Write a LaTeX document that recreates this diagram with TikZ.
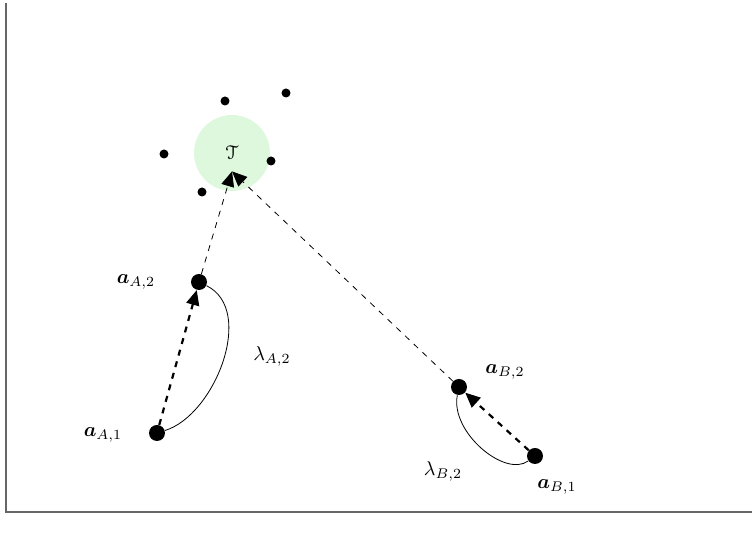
\documentclass[tikz,border=0pt]{standalone}
\usepackage{amsmath,bm}
\usepackage[mathcal]{eucal}
\usetikzlibrary{arrows.meta}
\definecolor{targetgreen}{RGB}{222,248,222}
\begin{document}
\begin{tikzpicture}[x=0.5pt,y=-0.5pt,
  dot/.style={circle,fill=black,inner sep=0pt,minimum size=4.5pt},
  state/.style={circle,fill=black,inner sep=0pt,minimum size=8pt},
  tip/.style={-{Triangle[length=7.5pt,width=6.5pt]}},
  move/.style={tip,dashed,line width=1.1pt},
  aim/.style={tip,dashed,thin},
  lbl/.style={inner sep=0pt}]
\useasboundingbox (0,0) rectangle (752,533);
% axes frame
\draw[black!60,line width=1pt] (6,3) -- (6,512) -- (752,512);
% target region
\fill[targetgreen] (232,153) circle[radius=19pt];
\node[inner sep=6pt] (T) at (232,152) {$\mathcal{T}$};
% scattered samples around the target
\node[dot] (s1) at (225,101) {};
\node[dot] (s2) at (286,93) {};
\node[dot] (s3) at (164,154) {};
\node[dot] (s4) at (271,161) {};
\node[dot] (s5) at (202,192) {};
% agent states
\node[state] (a1) at (157,433) {};
\node[state] (a2) at (199,282) {};
\node[state] (b1) at (535,456) {};
\node[state] (b2) at (459,387) {};
% labels
\node[lbl] (la1) at (103,435) {$\bm{a}_{A,1}$};
\node[lbl] (la2) at (136,282) {$\bm{a}_{A,2}$};
\node[lbl] (lb1) at (557,487) {$\bm{a}_{B,1}$};
\node[lbl] (lb2) at (505,372) {$\bm{a}_{B,2}$};
\node[lbl] (lla) at (272,356) {$\lambda_{A,2}$};
\node[lbl] (llb) at (443,471) {$\lambda_{B,2}$};
% steps
\draw[move] (a1) -- (a2);
\draw[move] (b1) -- (b2);
\draw[aim] (a2) -- (T.south);
\draw[aim] (b2) -- (T.south);
% step lengths
\draw (a1) .. controls (215,415) and (256,310) .. (a2);
\draw (b1) .. controls (505,478) and (450,432) .. (b2);
\end{tikzpicture}
\end{document}
